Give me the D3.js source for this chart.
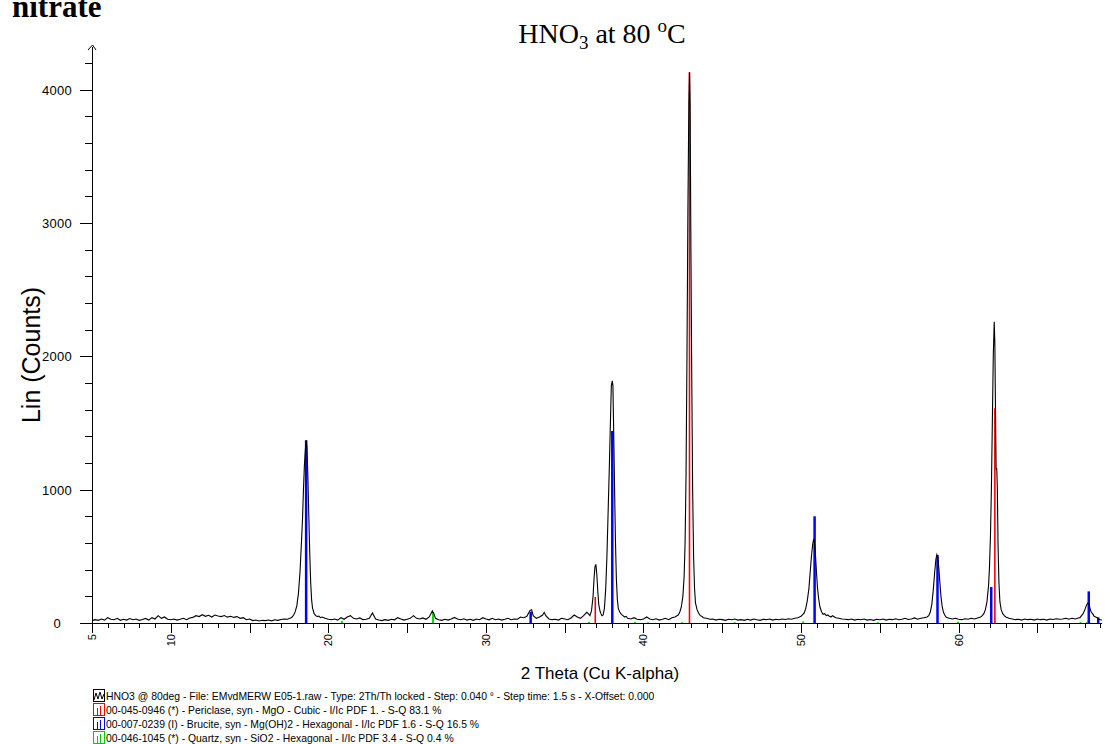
<!DOCTYPE html>
<html><head><meta charset="utf-8">
<script src="https://cdn.jsdelivr.net/npm/d3@7"></script>
<style>body{margin:0;background:#fff}svg{display:block}</style>
</head><body>
<svg id="c" width="1110" height="744"></svg>
<script>
// ---- data ----
const xTickLabels = [5, 10, 20, 30, 40, 50, 60];
const yTickLabels = [0, 1000, 2000, 3000, 4000];
const scan = [
[5.0,18],[5.2,25],[5.4,20],[5.6,30],[5.8,22],[6.0,40],[6.2,28],[6.4,24],[6.6,35],[6.8,20],[7.0,28],[7.2,22],[7.4,33],[7.6,25],[7.8,30],[8.0,20],[8.2,26],[8.4,34],[8.6,22],[8.8,40],[9.0,30],[9.2,55],[9.4,35],[9.6,45],[9.8,28],[10.0,24],[10.2,30],[10.4,22],[10.6,28],[10.8,35],[11.0,25],[11.2,38],[11.4,42],[11.6,55],[11.8,48],[12.0,62],[12.2,50],[12.4,58],[12.6,45],[12.8,60],[13.0,52],[13.2,48],[13.4,56],[13.6,44],[13.8,50],[14.0,42],[14.2,48],[14.4,35],[14.6,40],[14.8,25],[15.0,30],[15.2,18],[15.4,22],[15.6,15],[15.8,20],[16.0,18],[16.2,22],[16.4,16],[16.6,24],[16.8,20],[17.0,26],[17.2,30],[17.4,28],[17.6,38],
[17.7,45],[17.8,60],[17.9,85],[18.0,130],[18.1,220],[18.2,380],[18.3,620],[18.36,780],[18.42,1000],[18.48,1180],[18.54,1300],[18.6,1370],[18.64,1320],[18.7,1100],[18.76,800],[18.82,520],[18.88,300],[18.94,170],[19.0,110],[19.1,70],[19.2,55],[19.3,48],[19.4,52],[19.5,40],[19.6,45],[19.8,35],[20.0,28],
[20.2,25],[20.4,30],[20.6,22],[20.8,40],[21.0,28],[21.2,45],[21.4,55],[21.6,35],[21.8,30],[22.0,38],[22.2,25],[22.4,28],[22.6,35],[22.8,75],[23.0,30],[23.2,22],[23.4,18],[23.6,25],[23.8,20],[24.0,28],[24.2,24],[24.4,40],[24.6,30],[24.8,22],[25.0,28],[25.2,35],[25.4,55],[25.6,35],[25.8,30],[26.0,38],[26.2,28],[26.4,45],[26.6,90],[26.7,70],[26.8,35],[27.0,25],[27.2,20],[27.4,28],[27.6,22],[27.8,30],[28.0,42],[28.2,30],[28.4,25],[28.6,32],[28.8,22],[29.0,28],[29.2,20],[29.4,30],[29.6,25],[29.8,40],[30.0,30],[30.2,24],[30.4,35],[30.6,25],[30.8,30],[31.0,22],[31.2,28],[31.4,35],[31.6,25],[31.8,30],[32.0,28],[32.2,45],[32.4,40],[32.6,50],[32.8,95],[32.9,100],[33.0,55],[33.2,35],[33.4,45],[33.6,60],[33.7,80],[33.8,55],[34.0,30],[34.2,25],[34.4,28],[34.6,22],[34.8,35],[35.0,30],[35.2,25],[35.4,38],[35.6,60],[35.8,45],[36.0,35],[36.2,55],[36.4,80],[36.5,70],[36.6,55],[36.7,90],
[36.8,200],[36.86,330],[36.92,420],[36.98,440],[37.04,360],[37.1,240],[37.16,140],[37.24,90],[37.3,70],[37.36,55],[37.44,60],[37.52,110],[37.6,250],[37.68,500],[37.76,850],[37.84,1200],[37.9,1500],[37.96,1780],[38.02,1816],[38.06,1780],[38.1,1500],[38.16,1050],[38.22,620],[38.28,330],[38.34,180],[38.4,110],[38.5,80],[38.6,65],[38.7,55],[38.8,45],[38.9,50],[39.0,35],[39.2,30],[39.4,40],[39.6,28],[39.8,25],[40.0,30],[40.2,45],[40.4,30],[40.6,25],[40.8,32],[41.0,22],[41.2,28],[41.4,35],[41.6,25],[41.8,40],[42.0,45],[42.2,60],[42.3,80],[42.4,120],[42.5,200],[42.58,350],[42.64,600],[42.7,1100],[42.76,2000],[42.82,3100],[42.88,3900],[42.92,4130],[42.96,3900],[43.0,3000],[43.06,1900],[43.12,1000],[43.18,500],[43.24,260],[43.3,150],[43.4,100],[43.5,75],[43.6,55],[43.7,50],[43.8,40],
[44.0,35],[44.2,28],[44.4,30],[44.6,22],[44.8,28],[45.0,25],[45.2,20],[45.4,28],[45.6,24],[45.8,30],[46.0,22],[46.2,25],[46.4,20],[46.6,28],[46.8,22],[47.0,30],[47.2,24],[47.4,20],[47.6,28],[47.8,25],[48.0,30],[48.2,22],[48.4,28],[48.6,24],[48.8,30],[49.0,26],[49.2,32],[49.4,28],[49.6,35],[49.8,40],[50.0,50],[50.2,75],[50.3,110],[50.4,170],[50.5,260],[50.58,380],[50.66,500],[50.74,590],[50.8,630],[50.86,600],[50.92,500],[50.98,380],[51.04,270],[51.12,180],[51.2,120],[51.3,85],[51.4,65],[51.5,70],[51.6,55],[51.7,60],[51.8,50],[51.9,45],[52.0,55],[52.2,40],[52.4,35],[52.6,30],[52.8,28],
[53.0,25],[53.2,30],[53.4,22],[53.6,28],[53.8,24],[54.0,30],[54.2,22],[54.4,26],[54.6,20],[54.8,28],[55.0,24],[55.2,30],[55.4,22],[55.6,28],[55.8,25],[56.0,32],[56.2,24],[56.4,28],[56.6,35],[56.8,26],[57.0,30],[57.2,38],[57.4,28],[57.6,35],[57.8,40],[58.0,45],[58.1,55],[58.2,80],[58.3,140],[58.4,260],[58.48,380],[58.56,480],[58.62,512],[58.68,490],[58.74,420],[58.8,320],[58.88,200],[58.96,120],[59.04,80],[59.12,60],[59.2,45],[59.3,40],[59.4,35],[59.6,30],[59.8,35],[60.0,28],[60.2,25],[60.4,32],[60.6,28],[60.8,35],[61.0,30],[61.2,38],[61.4,45],[61.5,55],[61.6,70],[61.7,100],[61.8,160],[61.9,280],[61.96,420],[62.02,650],[62.08,1000],[62.14,1500],[62.2,2000],[62.26,2258],[62.3,2100],[62.34,1600],[62.38,1150],[62.42,1160],[62.46,1000],[62.5,600],[62.56,300],[62.62,160],[62.7,100],[62.8,70],[62.9,55],[63.0,45],[63.2,35],[63.4,30],[63.6,25],[63.8,28],[64.0,22],[64.2,30],[64.4,25],[64.6,28],[64.8,22],[65.0,30],[65.2,25],[65.4,28],[65.6,22],[65.8,30],[66.0,26],[66.2,32],[66.4,28],[66.6,30],[66.8,35],[67.0,28],[67.2,35],[67.4,30],[67.6,38],[67.7,40],[67.8,55],[67.9,70],[68.0,95],[68.1,130],[68.2,150],[68.26,145],[68.34,110],[68.42,80],[68.5,70],[68.6,50],[68.7,45],[68.8,40],[68.9,30],[69.0,25],[69.1,22]
];
const periclaseTheta = [36.94, 42.92, 62.30];
const periclaseI = [195, 4130, 1610];
const bruciteTheta = [18.59, 32.84, 38.02, 50.86, 58.66, 62.07, 68.26, 68.86];
const bruciteI = [1370, 85, 1440, 800, 510, 270, 237, 42];
const quartzTheta = [20.86, 26.64, 36.54, 39.47, 40.29, 42.45, 45.79, 50.14, 54.87, 59.96, 67.74, 68.14, 68.31];
const quartzI = [15, 80, 8, 8, 5, 6, 5, 12, 6, 10, 8, 6, 6];
const legendTexts = [
  "HNO3 @ 80deg - File: EMvdMERW E05-1.raw - Type: 2Th/Th locked - Step: 0.040 ° - Step time: 1.5 s - X-Offset: 0.000",
  "00-045-0946 (*) - Periclase, syn - MgO - Cubic - I/Ic PDF 1. - S-Q 83.1 %",
  "00-007-0239 (I) - Brucite, syn - Mg(OH)2 - Hexagonal - I/Ic PDF 1.6 - S-Q 16.5 %",
  "00-046-1045 (*) - Quartz, syn - SiO2 - Hexagonal - I/Ic PDF 3.4 - S-Q 0.4 %"
];
const legendColors = ["#000000", "#ff0000", "#0000ff", "#00cc00"];

// ---- drawing ----
const svg = d3.select("#c");
const x = d3.scaleLinear().domain([5, 69.1]).range([92, 1102]);
const y = d3.scaleLinear().domain([0, 4000]).range([623, 89.5]);
const sans = "Liberation Sans, Arial, sans-serif";
const serif = "Liberation Serif, Times New Roman, serif";

// titles
svg.append("text").attr("x", 12).attr("y", 17).attr("font-family", serif)
  .attr("font-weight", "bold").attr("font-size", 31).text("nitrate");
const t = svg.append("text").attr("x", 602).attr("y", 43).attr("text-anchor", "middle")
  .attr("font-family", serif).attr("font-size", 28);
t.append("tspan").text("HNO");
t.append("tspan").attr("font-size", 19).attr("dy", 6).text("3");
t.append("tspan").attr("dy", -6).text(" at 80 ");
t.append("tspan").attr("font-size", 19).attr("dy", -11).text("o");
t.append("tspan").attr("dy", 11).text("C");

// sticks (under the scan)
function sticks(th, I, col, w) {
  svg.append("g").selectAll("line").data(th).join("line")
    .attr("x1", d => x(d)).attr("x2", d => x(d))
    .attr("y1", y(0)).attr("y2", (d, i) => y(I[i]))
    .attr("stroke", col).attr("stroke-width", w);
}
sticks(quartzTheta, quartzI, "#00dd00", 2);
sticks(periclaseTheta, periclaseI, "#ff0000", 1.6);
sticks(bruciteTheta, bruciteI, "#0000ff", 2.5);

// scan
svg.append("path").datum(scan)
  .attr("d", d3.line().x(d => x(d[0])).y(d => y(d[1])))
  .attr("fill", "none").attr("stroke", "#000").attr("stroke-width", 1.1);

// axes
const ax = svg.append("g").attr("stroke", "#000").attr("stroke-width", 1);
ax.append("line").attr("x1", x(5)).attr("x2", x(69.1)).attr("y1", y(0) + 0.5).attr("y2", y(0) + 0.5);
ax.append("line").attr("x1", x(5) + 0.5).attr("x2", x(5) + 0.5).attr("y1", y(0)).attr("y2", 47);
svg.append("path").attr("d", `M${x(5)-4},${50} L${x(5)+0.5},${45} L${x(5)+4},${50}`)
  .attr("fill", "none").attr("stroke", "#000");

// x ticks every 1 deg, long every 5
const xt = d3.range(5, 70, 1);
ax.selectAll("line.xt").data(xt).join("line").attr("class", "xt")
  .attr("x1", d => Math.round(x(d)) + 0.5).attr("x2", d => Math.round(x(d)) + 0.5)
  .attr("y1", y(0)).attr("y2", d => y(0) + (d % 5 === 0 ? 10 : 5));
svg.append("g").selectAll("text").data(xTickLabels).join("text")
  .attr("transform", d => `translate(${x(d) + 4},634) rotate(-90)`)
  .attr("text-anchor", "end").attr("font-family", sans).attr("font-size", 11)
  .text(d => d);

// y ticks
const yt = d3.range(0, 4400, 200);
ax.selectAll("line.yt").data(yt).join("line").attr("class", "yt")
  .attr("x1", d => x(5) - (d % 1000 === 0 ? 12 : 7)).attr("x2", x(5))
  .attr("y1", d => Math.round(y(d)) + 0.5).attr("y2", d => Math.round(y(d)) + 0.5);
svg.append("g").selectAll("text").data(yTickLabels).join("text")
  .attr("x", d => d === 0 ? 61 : 72).attr("y", d => y(d) + 5)
  .attr("text-anchor", "end").attr("font-family", sans).attr("font-size", 13)
  .attr("letter-spacing", 0.3)
  .text(d => d);

// axis titles
svg.append("text").attr("transform", "translate(40,355) rotate(-90)")
  .attr("text-anchor", "middle").attr("font-family", sans).attr("font-size", 25)
  .text("Lin (Counts)");
svg.append("text").attr("x", 600).attr("y", 679).attr("text-anchor", "middle")
  .attr("font-family", sans).attr("font-size", 17).text("2 Theta (Cu K-alpha)");

// legend
const lg = svg.append("g");
legendTexts.forEach((txt, i) => {
  const cy = 696 + i * 14;
  const g = lg.append("g");
  g.append("rect").attr("x", 93.5).attr("y", cy - 6.5).attr("width", 11).attr("height", 12)
    .attr("fill", "none").attr("stroke", i === 0 ? "#000" : legendColors[i]);
  if (i === 0) {
    g.append("path").attr("d", `M94,${cy+4} L96,${cy-3} L98,${cy+3} L100,${cy-4} L102,${cy+3} L104,${cy-2}`)
      .attr("fill", "none").attr("stroke", "#000");
  } else {
    g.append("line").attr("x1", 97.5).attr("x2", 97.5).attr("y1", cy - 2).attr("y2", cy + 5)
      .attr("stroke", legendColors[i]);
    g.append("line").attr("x1", 100.5).attr("x2", 100.5).attr("y1", cy - 4).attr("y2", cy + 5)
      .attr("stroke", legendColors[i]);
  }
  g.append("text").attr("x", 106).attr("y", cy + 3.5).attr("font-family", sans)
    .attr("font-size", 10.4).text(txt);
});
</script>
</body></html>
